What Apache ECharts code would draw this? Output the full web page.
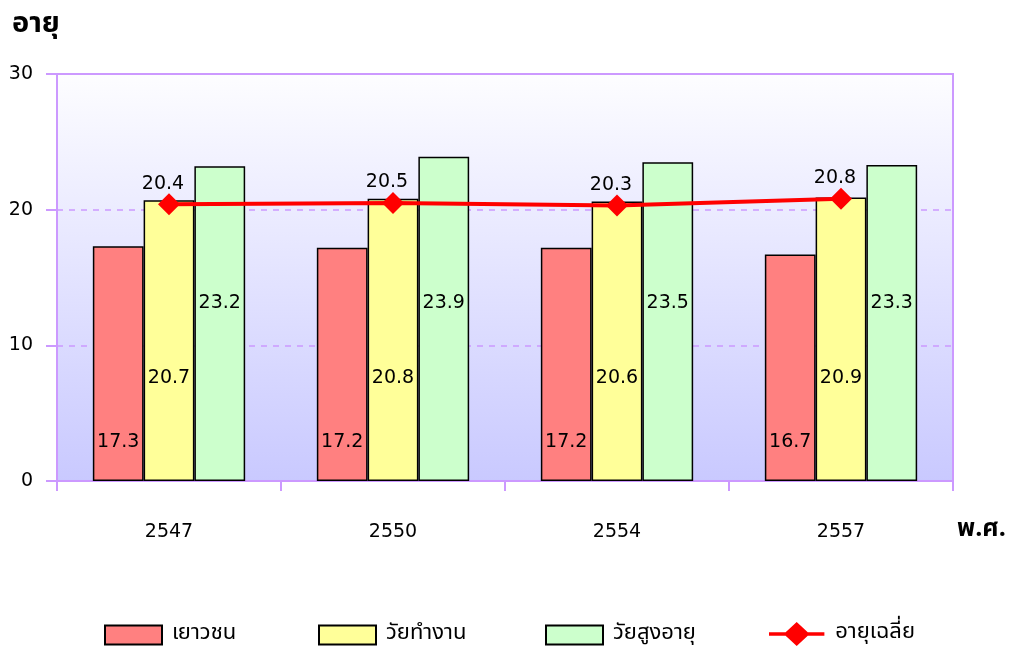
<!DOCTYPE html>
<html><head><meta charset="utf-8">
<script src="https://cdn.jsdelivr.net/npm/echarts@6/dist/echarts.min.js"></script>
<style>html,body{margin:0;padding:0;background:#fff}#c{width:1010px;height:650px}</style>
</head><body><div id="c"></div>
<script>
const categories = ['2547', '2550', '2554', '2557'];
const youth = [17.3, 17.2, 17.2, 16.7];
const working = [20.7, 20.8, 20.6, 20.9];
const elderly = [23.2, 23.9, 23.5, 23.3];
const average = [20.4, 20.5, 20.3, 20.8];
const seriesNames = ['เยาวชน', 'วัยทำงาน', 'วัยสูงอายุ', 'อายุเฉลี่ย'];
const yTicks = [0, 10, 20, 30];

const NUM = "'DejaVu Sans', sans-serif";
const THAI = "Tahoma, 'Noto Sans Thai', 'DejaVu Sans', sans-serif";
const PURPLE = '#cc99ff';
const chart = echarts.init(document.getElementById('c'));
const barLabel = (dist) => ({show: true, position: 'insideBottom', distance: dist, color: '#000', fontSize: 19, fontFamily: NUM});
const barStyle = (c) => ({color: c, borderColor: '#000', borderWidth: 1.5});
const legendLefts = [104, 318, 545, 769];
const lineIcon = 'path://M0,9 L18,9 L30,-2 L42,9 L60,9 L60,13 L42,13 L30,24 L18,13 L0,13 Z';
const legends = seriesNames.map((n, i) => ({
  left: legendLefts[i], top: i === 3 ? 622 : 624, padding: 0, itemWidth: 57, itemHeight: i === 3 ? 24 : 19, itemGap: 0,
  icon: i === 3 ? lineIcon : 'rect',
  textStyle: {fontSize: 22, color: '#000', fontFamily: THAI, padding: [i === 3 ? 3 : 0, 0, 0, 5]},
  data: [n]
}));
chart.setOption({
  animation: false,
  title: {text: 'อายุ', left: 7, top: 7, textStyle: {fontSize: 29, fontWeight: 'bold', color: '#000', fontFamily: THAI}},
  grid: {left: 57, right: 57, top: 74, bottom: 169, show: true, borderColor: PURPLE, borderWidth: 2,
    backgroundColor: new echarts.graphic.LinearGradient(0, 0, 0, 1, [{offset: 0, color: '#fdfdff'}, {offset: 1, color: '#c9c9ff'}])},
  legend: legends,
  xAxis: {type: 'category', data: categories,
    axisLine: {lineStyle: {color: PURPLE, width: 2}},
    axisTick: {show: true, length: 10, lineStyle: {color: PURPLE, width: 2}},
    axisLabel: {color: '#000', fontSize: 19, margin: 42, fontFamily: NUM},
    name: 'พ.ศ.', nameLocation: 'end', nameGap: 4,
    nameTextStyle: {fontSize: 25, fontWeight: 'bold', color: '#000', verticalAlign: 'top', padding: [37, 0, 0, 0], fontFamily: THAI}},
  yAxis: {type: 'value', min: yTicks[0], max: yTicks[yTicks.length - 1], interval: 10,
    axisLine: {show: true, lineStyle: {color: PURPLE, width: 2}},
    axisTick: {show: true, length: 11, lineStyle: {color: PURPLE, width: 2}},
    axisLabel: {color: '#000', fontSize: 19, margin: 24, fontFamily: NUM},
    splitLine: {show: true, lineStyle: {color: PURPLE, type: [6, 6], width: 1.5}}},
  series: [
    {name: seriesNames[0], type: 'bar', data: youth, barCategoryGap: '32%', barGap: '0%', itemStyle: barStyle('#ff8080'), label: barLabel(29)},
    {name: seriesNames[1], type: 'bar', data: working, barGap: '0%', itemStyle: barStyle('#ffff99'), label: barLabel(93)},
    {name: seriesNames[2], type: 'bar', data: elderly, barGap: '0%', itemStyle: barStyle('#ccffcc'), label: barLabel(168)},
    {name: seriesNames[3], type: 'line', data: average, symbol: 'diamond', symbolSize: 22,
      itemStyle: {color: '#ff0000'}, lineStyle: {color: '#ff0000', width: 4},
      label: {show: true, position: 'top', distance: 0, offset: [-6, 0], color: '#000', fontSize: 19, fontFamily: NUM}, z: 5}
  ]
});
</script></body></html>
